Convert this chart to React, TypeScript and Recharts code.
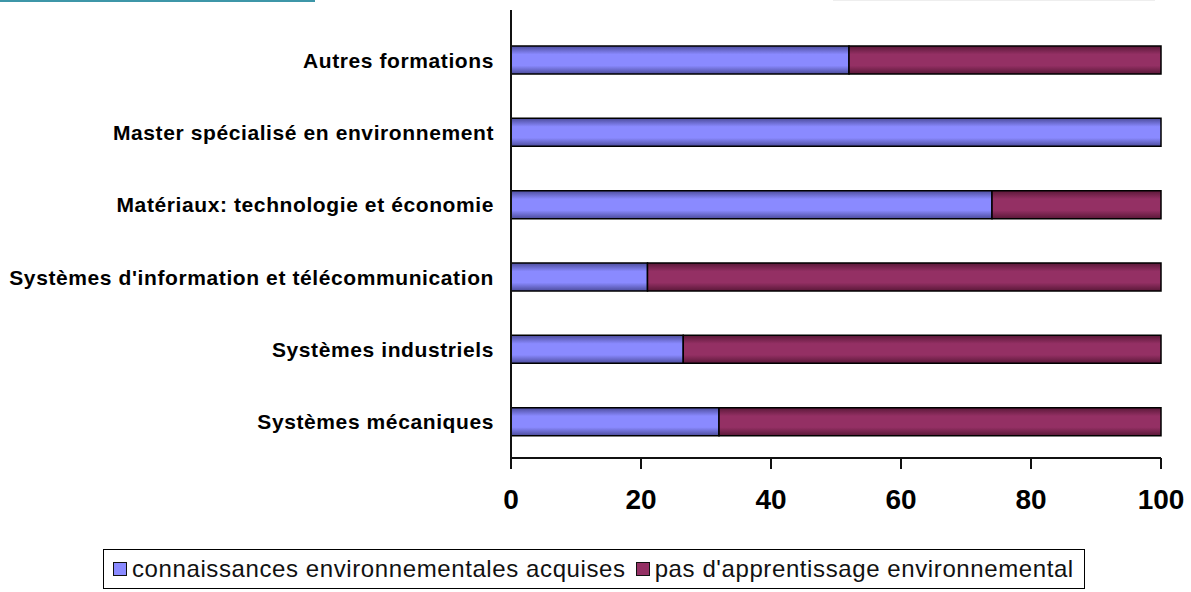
import { BarChart, Bar, XAxis, YAxis } from 'recharts';

const categories = [
  'Autres formations',
  'Master spécialisé en environnement',
  'Matériaux: technologie et économie',
  "Systèmes d'information et télécommunication",
  'Systèmes industriels',
  'Systèmes mécaniques',
];
const acquises = [52, 100, 74, 21, 26.5, 32];
const sansApprentissage = [48, 0, 26, 79, 73.5, 68];
const xTicks = [0, 20, 40, 60, 80, 100];

const seriesNames = ['connaissances environnementales acquises', "pas d'apprentissage environnemental"];

const data = categories.map((name, i) => ({
  name,
  acquises: acquises[i],
  sans: sansApprentissage[i],
}));

const font = 'Arial, "Liberation Sans", Helvetica, sans-serif';

function LegendBox() {
  const colors = ['#8a8aff', '#943064'];
  return (
    <div
      style={{
        position: 'absolute',
        left: 103,
        top: 549,
        width: 982,
        height: 40,
        border: '1.5px solid #000',
        display: 'flex',
        alignItems: 'center',
        paddingLeft: 9,
        boxSizing: 'border-box',
        fontFamily: font,
        fontSize: 24,
        letterSpacing: 0.6,
        color: '#111',
        whiteSpace: 'nowrap',
      }}
    >
      {seriesNames.map((n, i) => (
        <span key={n} style={{ display: 'flex', alignItems: 'center', marginRight: 10 }}>
          <span
            style={{
              display: 'inline-block',
              width: 12,
              height: 12,
              border: '1.5px solid #111',
              background: colors[i],
              marginRight: 5,
            }}
          />
          {n}
        </span>
      ))}
    </div>
  );
}

export default function App() {
  return (
    <div style={{ position: 'absolute', left: 0, top: 0, width: 1191, height: 592, background: '#fff' }}>
      <div style={{ position: 'absolute', left: 0, top: 0, width: 315, height: 2, background: '#3d96a8' }} />
      <div style={{ position: 'absolute', left: 833, top: 0, width: 322, height: 1, background: '#eeeeee' }} />
      <BarChart
        width={1191}
        height={592}
        data={data}
        layout="vertical"
        barSize={28}
        margin={{ top: 10, right: 30, left: 0, bottom: 74 }}
      >
        <defs>
          <linearGradient id="gBlue" x1="0" y1="0" x2="0" y2="1">
            <stop offset="0%" stopColor="#4c4c9c" />
            <stop offset="30%" stopColor="#8a8aff" />
            <stop offset="70%" stopColor="#8a8aff" />
            <stop offset="100%" stopColor="#4c4c9c" />
          </linearGradient>
          <linearGradient id="gPurple" x1="0" y1="0" x2="0" y2="1">
            <stop offset="0%" stopColor="#5a1838" />
            <stop offset="30%" stopColor="#943064" />
            <stop offset="70%" stopColor="#943064" />
            <stop offset="100%" stopColor="#5a1838" />
          </linearGradient>
        </defs>
        <XAxis
          type="number"
          domain={[0, 100]}
          ticks={xTicks}
          height={60}
          tickSize={11}
          tickMargin={20}
          axisLine={{ stroke: '#111', strokeWidth: 2 }}
          tickLine={{ stroke: '#111', strokeWidth: 2 }}
          tick={{ fontSize: 28, fontWeight: 700, fill: '#000', fontFamily: font }}
        />
        <YAxis
          type="category"
          dataKey="name"
          width={511}
          padding={{ top: 14, bottom: 0 }}
          tickSize={0}
          tickMargin={17}
          tickLine={false}
          axisLine={{ stroke: '#111', strokeWidth: 2 }}
          tick={{ fontSize: 21, fontWeight: 700, fill: '#000', fontFamily: font, letterSpacing: 0.6 }}
        />
        <Bar dataKey="acquises" stackId="a" fill="url(#gBlue)" stroke="#000" strokeWidth={1.5} isAnimationActive={false} />
        <Bar dataKey="sans" stackId="a" fill="url(#gPurple)" stroke="#000" strokeWidth={1.5} isAnimationActive={false} />
      </BarChart>
      <LegendBox />
    </div>
  );
}
